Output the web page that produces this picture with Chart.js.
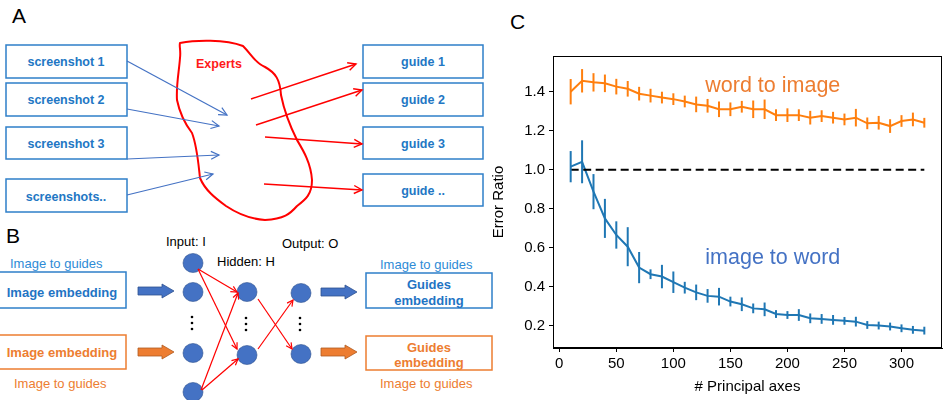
<!DOCTYPE html>
<html>
<head>
<meta charset="utf-8">
<script src="https://cdn.jsdelivr.net/npm/chart.js@4"></script>
<style>
  body { margin: 0; background: #fff; }
  #wrap { position: relative; width: 944px; height: 400px; overflow: hidden; font-family: "Liberation Sans", Arial, sans-serif; }
  #diagram { position: absolute; left: 0; top: 0; }
  #chart-box { position: absolute; left: 490px; top: 40px; width: 454px; height: 360px; }
</style>
</head>
<body>
<div id="wrap">
  <svg id="diagram" width="944" height="400" font-family="Liberation Sans, Arial, sans-serif">
    <defs>
      <marker id="blueHead" markerUnits="userSpaceOnUse" markerWidth="12" markerHeight="12" refX="9" refY="5" orient="auto">
        <path d="M1,1 L9,5 L1,9" fill="none" stroke="#4472c4" stroke-width="1.2"/>
      </marker>
      <marker id="redHead" markerUnits="userSpaceOnUse" markerWidth="12" markerHeight="12" refX="9" refY="5" orient="auto">
        <path d="M1,1 L9,5 L1,9" fill="none" stroke="#ff0000" stroke-width="1.4"/>
      </marker>
      <marker id="redHeadS" markerUnits="userSpaceOnUse" markerWidth="10" markerHeight="10" refX="7" refY="4" orient="auto">
        <path d="M1,1 L7,4 L1,7" fill="none" stroke="#ff0000" stroke-width="1.2"/>
      </marker>
    </defs>

    <!-- panel A -->
    <text x="12" y="23" font-size="21" fill="#000">A</text>
    <g fill="none" stroke="#2e7fc9" stroke-width="1.5">
      <rect x="6" y="45" width="121" height="33"/>
      <rect x="6" y="83" width="121" height="33"/>
      <rect x="6" y="127" width="121" height="32"/>
      <rect x="6" y="179" width="121" height="33"/>
      <rect x="363" y="45" width="120" height="33"/>
      <rect x="363" y="83" width="120" height="33"/>
      <rect x="363" y="127" width="120" height="32"/>
      <rect x="363" y="174" width="120" height="32"/>
    </g>
    <g fill="#2277c4" font-size="12.5" font-weight="bold" text-anchor="middle" dominant-baseline="central">
      <text x="66" y="62">screenshot 1</text>
      <text x="66" y="100">screenshot 2</text>
      <text x="66" y="144">screenshot 3</text>
      <text x="66" y="197">screenshots..</text>
      <text x="423" y="62">guide 1</text>
      <text x="423" y="100">guide 2</text>
      <text x="423" y="144">guide 3</text>
      <text x="423" y="191">guide ..</text>
    </g>
    <path d="M180,43 C195,40 225,39 243,46 C252,55 255,63 265,67 C276,73 280,80 281,95 C285,115 292,130 297,140 C303,150 311,163 312,180 C312,195 305,200 297,206 C290,214 284,219 265,220 C250,219 238,214 226,206 C215,198 205,190 200,178 C198,160 197,146 192,133 C186,125 180,115 177,100 C176,85 179,72 180,58 C181,50 179,46 180,43 Z" fill="none" stroke="#ff0000" stroke-width="2"/>
    <text x="196" y="64" font-size="12.5" font-weight="bold" fill="#ff1a1a" dominant-baseline="central">Experts</text>
    <g stroke="#4472c4" stroke-width="1.2" fill="none" marker-end="url(#blueHead)">
      <line x1="127" y1="61" x2="227" y2="115"/>
      <line x1="127" y1="109" x2="219" y2="126"/>
      <line x1="127" y1="159" x2="219" y2="155"/>
      <line x1="127" y1="195" x2="213" y2="174"/>
    </g>
    <g stroke="#ff0000" stroke-width="1.5" fill="none" marker-end="url(#redHead)">
      <line x1="251" y1="99" x2="356" y2="64"/>
      <line x1="256" y1="125" x2="362" y2="90"/>
      <line x1="265" y1="137" x2="362" y2="144"/>
      <line x1="264" y1="184" x2="362" y2="190"/>
    </g>

    <!-- panel B -->
    <text x="6" y="243" font-size="21" fill="#000">B</text>
    <g font-size="13" fill="#000" dominant-baseline="central">
      <text x="166" y="241">Input: I</text>
      <text x="217" y="261">Hidden: H</text>
      <text x="282" y="243">Output: O</text>
    </g>
    <g font-size="13" dominant-baseline="central">
      <text x="10" y="263" fill="#2e8bd6">Image to guides</text>
      <text x="14" y="383" fill="#ed7d31">Image to guides</text>
      <text x="380" y="264" fill="#2e8bd6">Image to guides</text>
      <text x="380" y="383" fill="#ed7d31">Image to guides</text>
    </g>
    <rect x="-2" y="272" width="128" height="36" fill="none" stroke="#2e7fc9" stroke-width="1.5"/>
    <rect x="-2" y="335" width="128" height="34" fill="none" stroke="#ed7d31" stroke-width="1.5"/>
    <rect x="366" y="273" width="126" height="35" fill="none" stroke="#2e7fc9" stroke-width="1.5"/>
    <rect x="366" y="336" width="126" height="34" fill="none" stroke="#ed7d31" stroke-width="1.5"/>
    <g font-size="13" font-weight="bold" text-anchor="middle" dominant-baseline="central">
      <text x="62" y="292" fill="#1f74c4">Image embedding</text>
      <text x="62" y="352" fill="#ed7d31">Image embedding</text>
      <text x="429" y="284" fill="#1f74c4">Guides</text>
      <text x="429" y="300" fill="#1f74c4">embedding</text>
      <text x="429" y="347" fill="#ed7d31">Guides</text>
      <text x="429" y="362" fill="#ed7d31">embedding</text>
    </g>
    <g stroke="#2f528f" stroke-width="0.8">
      <path d="M138,287 L162,287 L162,284 L174,291 L162,298 L162,295 L138,295 Z" fill="#4472c4"/>
      <path d="M321,288 L345,288 L345,285 L357,292 L345,299 L345,296 L321,296 Z" fill="#4472c4"/>
    </g>
    <g stroke="#ae5a21" stroke-width="0.8">
      <path d="M138,348 L162,348 L162,345 L174,352 L162,359 L162,356 L138,356 Z" fill="#ed7d31"/>
      <path d="M321,348 L345,348 L345,345 L357,352 L345,359 L345,356 L321,356 Z" fill="#ed7d31"/>
    </g>
    <g fill="#4472c4" stroke="#2f528f" stroke-width="0.6">
      <ellipse cx="193" cy="263" rx="10" ry="9.5"/>
      <ellipse cx="193" cy="292" rx="10" ry="9.5"/>
      <ellipse cx="193" cy="353" rx="10" ry="9.5"/>
      <ellipse cx="193" cy="392" rx="10" ry="9.5"/>
      <ellipse cx="247" cy="292" rx="10" ry="9.5"/>
      <ellipse cx="247" cy="355" rx="10" ry="9.5"/>
      <ellipse cx="301" cy="293" rx="10" ry="9.5"/>
      <ellipse cx="301" cy="354" rx="10" ry="9.5"/>
    </g>
    <g fill="#000">
      <circle cx="192" cy="317" r="1.3"/><circle cx="192" cy="323" r="1.3"/><circle cx="192" cy="329" r="1.3"/>
      <circle cx="246" cy="318" r="1.3"/><circle cx="246" cy="324" r="1.3"/><circle cx="246" cy="330" r="1.3"/>
      <circle cx="300" cy="318" r="1.3"/><circle cx="300" cy="324" r="1.3"/><circle cx="300" cy="330" r="1.3"/>
    </g>
    <g stroke="#ff0000" stroke-width="1.2" fill="none" marker-end="url(#redHeadS)">
      <line x1="198" y1="269" x2="237" y2="292"/>
      <line x1="198" y1="269" x2="237" y2="349"/>
      <line x1="201" y1="390" x2="238" y2="293"/>
      <line x1="202" y1="390" x2="238" y2="359"/>
      <line x1="258" y1="299" x2="292" y2="349"/>
      <line x1="258" y1="349" x2="293" y2="300"/>
    </g>

    <!-- panel C letter -->
    <text x="510" y="29" font-size="21" fill="#000">C</text>
  </svg>
  <div id="chart-box"><canvas id="errChart"></canvas></div>
</div>

<script>
  // principal axes counts
  const axesCounts = [10, 20, 30, 40, 50, 60, 70, 80, 90, 100, 110, 120, 130, 140, 150, 160,
    170, 180, 190, 200, 210, 220, 230, 240, 250, 260, 270, 280, 290, 300, 310, 320]

  const wordToImage = [1.40, 1.456, 1.448, 1.443, 1.426, 1.415, 1.39, 1.38, 1.37, 1.362, 1.35, 1.335,
    1.328, 1.31, 1.31, 1.323, 1.31, 1.31, 1.28, 1.28, 1.28, 1.267, 1.275, 1.267, 1.258, 1.267,
    1.238, 1.241, 1.224, 1.25, 1.258, 1.241]
  const wordToImageErr = [0.065, 0.06, 0.047, 0.045, 0.04, 0.04, 0.035, 0.035, 0.03, 0.03, 0.03, 0.04,
    0.035, 0.04, 0.035, 0.03, 0.045, 0.05, 0.03, 0.035, 0.03, 0.035, 0.03, 0.03, 0.03, 0.045,
    0.03, 0.035, 0.035, 0.03, 0.035, 0.025]

  const imageToWord = [1.016, 1.041, 0.888, 0.751, 0.666, 0.606, 0.499, 0.465, 0.453, 0.424, 0.396,
    0.372, 0.354, 0.35, 0.325, 0.311, 0.29, 0.285, 0.261, 0.256, 0.256, 0.239, 0.236, 0.231, 0.226,
    0.222, 0.205, 0.202, 0.197, 0.188, 0.18, 0.176]
  const imageToWordErr = [0.08, 0.11, 0.09, 0.1, 0.07, 0.1, 0.08, 0.025, 0.06, 0.055, 0.03, 0.04,
    0.035, 0.045, 0.025, 0.035, 0.025, 0.035, 0.02, 0.02, 0.03, 0.025, 0.025, 0.025, 0.02, 0.025,
    0.02, 0.02, 0.02, 0.02, 0.02, 0.02]

  const referenceLevel = 1.0
  const xTickValues = [0, 50, 100, 150, 200, 250, 300]
  const yTickValues = [0.2, 0.4, 0.6, 0.8, 1.0, 1.2, 1.4]

  const FONT = "'Liberation Sans', Arial, sans-serif"
  const BLUE = "#1f77b4"
  const ORANGE = "#ff7f0e"

  const toPoints = (ys) => axesCounts.map((x, i) => ({ x: x, y: ys[i] }))

  // vertical error bars, no caps (matplotlib style)
  const errorBars = {
    id: "errorBars",
    afterDatasetsDraw(chart) {
      const { ctx, scales } = chart
      chart.data.datasets.forEach((ds) => {
        if (!ds.errors) return
        ctx.save()
        ctx.strokeStyle = ds.borderColor
        ctx.lineWidth = 2
        ds.data.forEach((p, i) => {
          const px = scales.x.getPixelForValue(p.x)
          ctx.beginPath()
          ctx.moveTo(px, scales.y.getPixelForValue(p.y - ds.errors[i]))
          ctx.lineTo(px, scales.y.getPixelForValue(p.y + ds.errors[i]))
          ctx.stroke()
        })
        ctx.restore()
      })
    },
  }

  // box around the plot + in-plot labels
  const frameAndLabels = {
    id: "frameAndLabels",
    afterDraw(chart) {
      const { ctx, chartArea, scales } = chart
      ctx.save()
      ctx.strokeStyle = "#000"
      ctx.lineWidth = 1
      ctx.strokeRect(chartArea.left + 0.5, chartArea.top + 0.5,
        chartArea.right - chartArea.left - 1, chartArea.bottom - chartArea.top - 1)

      ctx.font = "21.5px " + FONT
      ctx.textBaseline = "middle"
      ctx.fillStyle = "#ed7d31"
      ctx.fillText("word to image", scales.x.getPixelForValue(128), scales.y.getPixelForValue(1.43))
      ctx.fillStyle = "#4472c4"
      ctx.fillText("image to word", scales.x.getPixelForValue(128), scales.y.getPixelForValue(0.548))
      ctx.restore()
    },
  }

  const ctx = document.getElementById("errChart").getContext("2d")
  new Chart(ctx, {
    type: "line",
    data: {
      datasets: [
        {
          label: "reference",
          data: [{ x: axesCounts[0], y: referenceLevel }, { x: axesCounts[axesCounts.length - 1], y: referenceLevel }],
          borderColor: "#000",
          borderWidth: 2,
          borderDash: [8, 4.5],
          pointRadius: 0,
        },
        {
          label: "word to image",
          data: toPoints(wordToImage),
          errors: wordToImageErr,
          borderColor: ORANGE,
          borderWidth: 2,
          pointRadius: 0,
        },
        {
          label: "image to word",
          data: toPoints(imageToWord),
          errors: imageToWordErr,
          borderColor: BLUE,
          borderWidth: 2,
          pointRadius: 0,
        },
      ],
    },
    options: {
      responsive: true,
      maintainAspectRatio: false,
      animation: false,
      layout: { padding: { top: 16, right: 2, left: 0, bottom: 0 } },
      plugins: { legend: { display: false }, tooltip: { enabled: false } },
      scales: {
        x: {
          type: "linear",
          min: -5.5,
          max: 335.5,
          afterBuildTicks: (s) => { s.ticks = xTickValues.map((v) => ({ value: v })) },
          afterFit: (s) => { s.height = 52 },
          grid: { drawOnChartArea: false, drawTicks: true, tickLength: 4, color: "#000" },
          border: { display: true, color: "#000", width: 1 },
          ticks: { color: "#000", font: { family: FONT, size: 15 }, padding: 3, maxRotation: 0 },
          title: { display: true, text: "# Principal axes", color: "#000", font: { family: FONT, size: 15 }, padding: { top: 4 } },
        },
        y: {
          type: "linear",
          min: 0.087,
          max: 1.583,
          afterBuildTicks: (s) => { s.ticks = yTickValues.map((v) => ({ value: v })) },
          afterFit: (s) => { s.width = 63 },
          grid: { drawOnChartArea: false, drawTicks: true, tickLength: 4, color: "#000" },
          border: { display: true, color: "#000", width: 1 },
          ticks: {
            color: "#000",
            font: { family: FONT, size: 15 },
            padding: 4,
            callback: (v) => Number(v).toFixed(1),
          },
          title: { display: true, text: "Error Ratio", color: "#000", font: { family: FONT, size: 15 }, padding: 0 },
        },
      },
    },
    plugins: [errorBars, frameAndLabels],
  })
</script>
</body>
</html>
